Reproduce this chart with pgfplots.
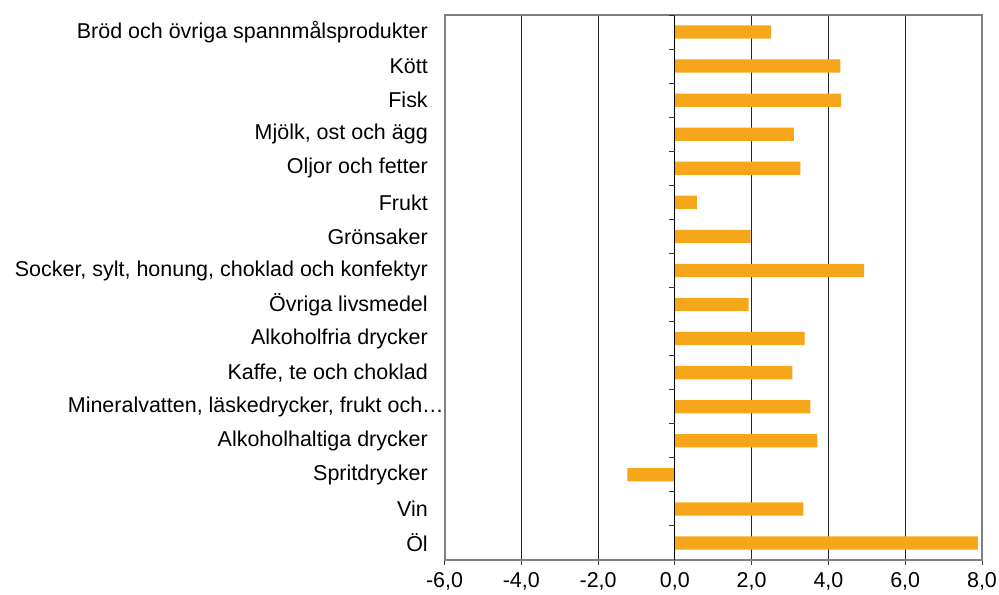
\documentclass[border=0pt]{standalone}
\usepackage{pgfplots}
\pgfplotsset{compat=1.18}
\usepackage{fontspec}
\setmainfont{Liberation Sans}
\definecolor{barorange}{RGB}{245,166,26}
\definecolor{framegray}{RGB}{128,128,128}
\begin{document}
\fontsize{16.1pt}{19pt}\selectfont
\begin{tikzpicture}
\path[use as bounding box] (0,0) rectangle (749.25pt,445.5pt);
\begin{axis}[
 at={(333.4pt,25.5pt)}, anchor=south west,
 scale only axis, width=403.1pt, height=408.75pt,
 xbar, bar width=0.39,
 xmin=-6, xmax=8, ymin=-0.5, ymax=15.5, y dir=reverse,
 xtick={-6,-4,...,8},
 xticklabels={{-6,0},{-4,0},{-2,0},{0,0},{2,0},{4,0},{6,0},{8,0}},
 ytick={0,...,15},
 yticklabels={Bröd och övriga spannmålsprodukter, Kött, Fisk, {Mjölk, ost och ägg}, Oljor och fetter, Frukt, Grönsaker, {Socker, sylt, honung, choklad och konfektyr}, Övriga livsmedel, Alkoholfria drycker, {Kaffe, te och choklad}, {Mineralvatten, läskedrycker, frukt och…\hspace*{-12pt}}, Alkoholhaltiga drycker, Spritdrycker, Vin, Öl},
 xmajorgrids, major grid style={black!85, line width=0.6pt},
 axis line style={framegray, line width=1.5pt},
 xtick pos=left, ytick pos=left, tick align=outside, major tick length=3.75pt,
 xtick style={black!75, line width=0.75pt},
 ytick style={draw=none},
 tick label style={font=\fontsize{16.1pt}{19pt}\selectfont},
 yticklabel style={anchor=east, inner sep=0pt, xshift=-8.65pt},
 xticklabel style={anchor=north, inner sep=0pt, yshift=-5.5pt},
]
\addplot[fill=barorange, draw=none] coordinates {
 (2.51,0) (4.31,1) (4.33,2) (3.10,3) (3.27,4) (0.57,5) (1.97,6) (4.93,7)
 (1.92,8) (3.38,9) (3.06,10) (3.53,11) (3.71,12) (-1.24,13) (3.35,14) (7.89,15)
};
\draw[black, line width=0.75pt] (axis cs:0,-0.5) -- (axis cs:0,15.5);
\pgfplotsinvokeforeach{-0.5,0.5,1.5,2.5,3.5,4.5,5.5,6.5,7.5,8.5,9.5,10.5,11.5,12.5,13.5,14.5}{\draw[black!80, line width=0.75pt] (axis cs:0,#1) -- ([xshift=-4.5pt]axis cs:0,#1);}
\end{axis}
\end{tikzpicture}
\end{document}
